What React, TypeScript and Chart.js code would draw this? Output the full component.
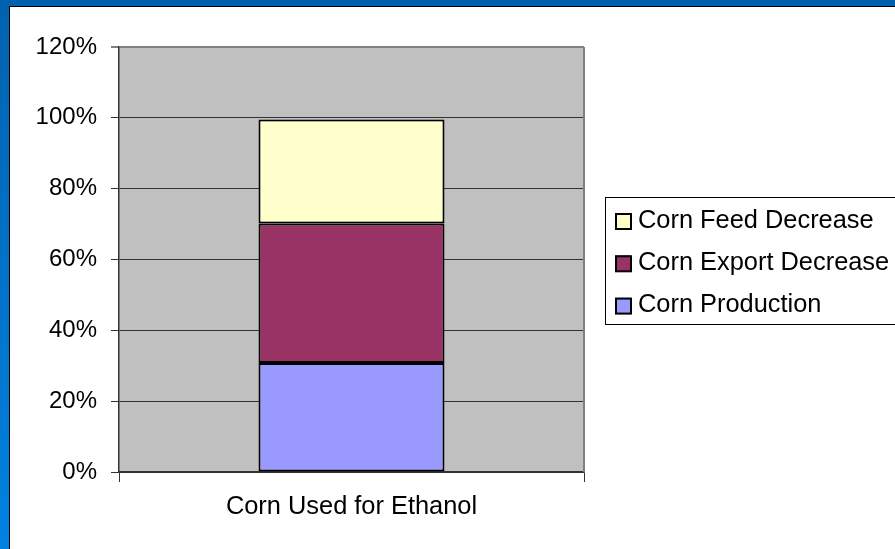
import React, { useEffect, useRef } from "react";
import { Chart, registerables } from "chart.js";

Chart.register(...registerables);

const categories = ["Corn Used for Ethanol"];
const seriesNames = ["Corn Production", "Corn Export Decrease", "Corn Feed Decrease"];
const productionValues = [30.8];
const exportValues = [39.4];
const feedValues = [29.3];
const seriesColors = ["#9999FF", "#993366", "#FFFFCC"];
const yTicks = [0, 20, 40, 60, 80, 100, 120];

const FONT = "'Liberation Sans', Arial, Helvetica, sans-serif";

const plotBg = {
  id: "plotBg",
  beforeDraw(chart: any) {
    const { ctx, chartArea } = chart;
    ctx.save();
    ctx.fillStyle = "#C0C0C0";
    ctx.fillRect(chartArea.left, chartArea.top, chartArea.right - chartArea.left, chartArea.bottom - chartArea.top);
    ctx.restore();
  },
  afterDatasetsDraw(chart: any) {
    const { ctx, chartArea } = chart;
    ctx.save();
    ctx.strokeStyle = "#808080";
    ctx.lineWidth = 2;
    ctx.beginPath();
    ctx.moveTo(chartArea.right, chartArea.top);
    ctx.lineTo(chartArea.right, chartArea.bottom);
    ctx.stroke();
    ctx.restore();
  },
};

const customLegend = {
  id: "customLegend",
  afterDraw(chart: any) {
    const { ctx } = chart;
    const ds = chart.data.datasets;
    ctx.save();
    ctx.strokeStyle = "#000";
    ctx.lineWidth = 1;
    ctx.strokeRect(605.5, 197.5, 420, 127);
    ctx.font = `25.4px ${FONT}`;
    ctx.textBaseline = "alphabetic";
    ctx.textAlign = "left";
    const items = ds.map((d: any, i: number) => i).reverse();
    items.forEach((idx: number, row: number) => {
      const d = ds[idx];
      const sy = 213 + row * 42.3;
      ctx.fillStyle = d.backgroundColor;
      ctx.fillRect(615, sy, 16, 16);
      ctx.strokeStyle = "#000";
      ctx.lineWidth = 2;
      ctx.strokeRect(616, sy + 1, 15, 15);
      ctx.fillStyle = "#000";
      ctx.fillText(d.label, 638, 227.5 + row * 42.3);
    });
    ctx.restore();
  },
};

export default function App() {
  const ref = useRef<HTMLCanvasElement | null>(null);
  useEffect(() => {
    if (!ref.current) return;
    const values = [productionValues, exportValues, feedValues];
    const chart = new Chart(ref.current, {
      type: "bar",
      data: {
        labels: categories,
        datasets: seriesNames.map((name, i) => ({
          label: name,
          data: values[i],
          backgroundColor: seriesColors[i],
          borderColor: "#000",
          borderWidth: 2,
          borderSkipped: false,
          barPercentage: 0.4,
          categoryPercentage: 1,
        })),
      },
      options: {
        responsive: false,
        animation: false,
        layout: { padding: { top: 47, right: 311, left: 0, bottom: 0 } },
        plugins: { legend: { display: false }, tooltip: { enabled: false } },
        scales: {
          x: {
            stacked: true,
            grid: { drawOnChartArea: false, drawTicks: true, tickLength: 10, color: "#333", offset: true },
            border: { color: "#333", width: 1.5 },
            ticks: { color: "#000", font: { family: FONT, size: 25.4 }, padding: 10 },
            afterFit(scale: any) {
              scale.height = 77;
            },
          },
          y: {
            stacked: true,
            min: 0,
            max: 120,
            afterBuildTicks(scale: any) {
              scale.ticks = yTicks.map((v) => ({ value: v }));
            },
            grid: {
              color: (c: any) => (c.tick && c.tick.value === 120 ? "#808080" : "#333"),
              lineWidth: (c: any) => (c.tick && c.tick.value === 120 ? 2 : 1),
              tickLength: 8,
            },
            border: { color: "#333", width: 1.5 },
            ticks: {
              color: "#000",
              font: { family: FONT, size: 24 },
              padding: 14,
              callback: (v: any) => `${v}%`,
            },
            afterFit(scale: any) {
              scale.width = 119;
            },
          },
        },
      },
      plugins: [plotBg, customLegend],
    });
    return () => chart.destroy();
  }, []);

  return (
    <div
      style={{
        position: "fixed",
        left: 0,
        top: 0,
        width: 895,
        height: 549,
        background: "linear-gradient(to bottom, #0062AE, #0082E2)",
        overflow: "hidden",
      }}
    >
      <div
        style={{
          position: "absolute",
          left: 9,
          top: 6,
          right: 0,
          bottom: 0,
          background: "#fff",
          borderLeft: "1px solid #000",
          borderTop: "1px solid #000",
        }}
      />
      <canvas ref={ref} width={895} height={549} style={{ position: "absolute", left: 0, top: 0 }} />
    </div>
  );
}
